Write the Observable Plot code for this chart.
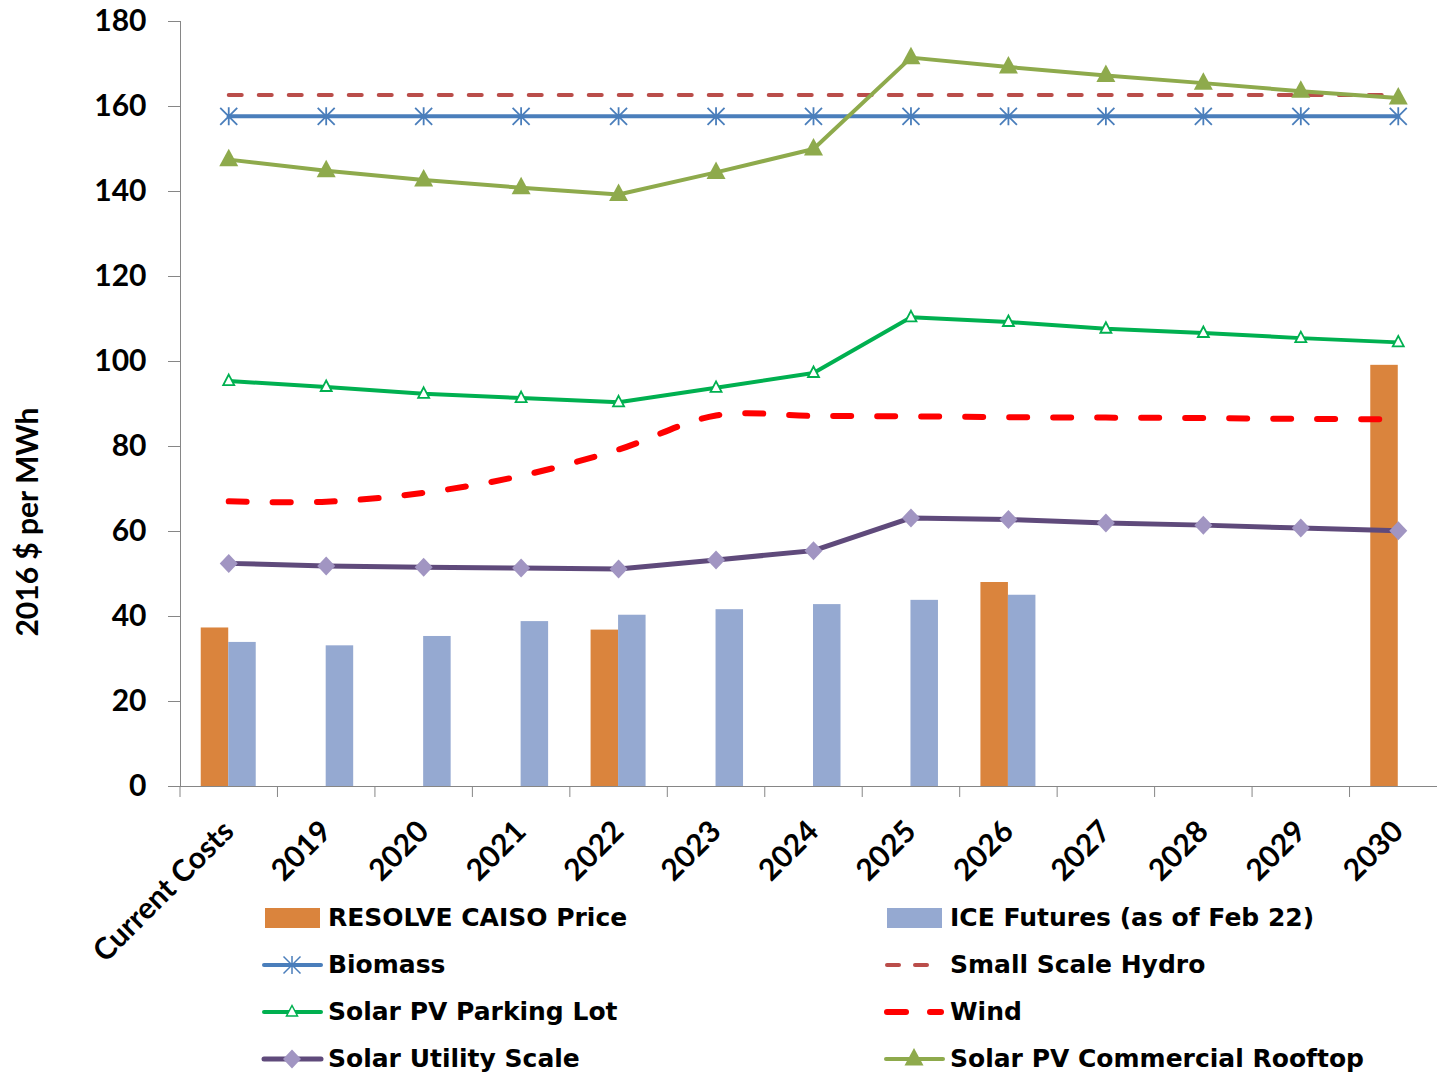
<!DOCTYPE html>
<html>
<head>
<meta charset="utf-8">
<script src="https://cdn.jsdelivr.net/npm/d3@7"></script>
<script src="https://cdn.jsdelivr.net/npm/@observablehq/plot@0.6"></script>
<style>
  body { margin: 0; background: #fff; }
  #chart { position: relative; width: 1437px; height: 1075px; }
  #chart svg { overflow: visible; }
  .legend-item {
    position: absolute; display: flex; align-items: center; height: 30px;
    font: bold 25px "DejaVu Sans", sans-serif; color: #000; white-space: nowrap; line-height: 30px;
  }
  .legend-item span { margin-left: 7px; }
</style>
</head>
<body>
<div id="chart"></div>
<script>
// Categories along the x axis
const categories = ["Current Costs", "2019", "2020", "2021", "2022", "2023", "2024",
                    "2025", "2026", "2027", "2028", "2029", "2030"];
const yTicks = [0, 20, 40, 60, 80, 100, 120, 140, 160, 180];
const yTitle = "2016 $ per MWh";

// Wholesale price references, 2016 $ per MWh (null = no value for that year)
const resolveCaisoPrice = [37.3, null, null, null, 36.8, null, null, null, 48.0, null, null, null, 99.1];
const iceFutures        = [33.9, 33.1, 35.3, 38.8, 40.3, 41.6, 42.8, 43.8, 45.0, null, null, null, null];

// Levelized cost by technology, 2016 $ per MWh
const biomass          = [157.7, 157.7, 157.7, 157.7, 157.7, 157.7, 157.7, 157.7, 157.7, 157.7, 157.7, 157.7, 157.7];
const smallScaleHydro  = [162.7, 162.7, 162.7, 162.7, 162.7, 162.7, 162.7, 162.7, 162.7, 162.7, 162.7, 162.7, 162.7];
const solarParkingLot  = [95.4, 94.0, 92.4, 91.4, 90.4, 93.8, 97.3, 110.4, 109.3, 107.7, 106.7, 105.5, 104.5];
const wind             = [67.1, 67.0, 69.1, 73.1, 79.3, 87.3, 87.2, 87.1, 86.9, 86.8, 86.7, 86.5, 86.4];
const solarUtility     = [52.5, 51.9, 51.6, 51.4, 51.2, 53.3, 55.5, 63.2, 62.8, 62.0, 61.5, 60.8, 60.2];
const solarRooftop     = [147.5, 144.9, 142.7, 140.9, 139.3, 144.5, 150.0, 171.5, 169.3, 167.3, 165.5, 163.6, 162.0];

const table = categories.map((category, i) => ({
  category,
  resolve: resolveCaisoPrice[i],
  ice: iceFutures[i],
  biomass: biomass[i],
  hydro: smallScaleHydro[i],
  parking: solarParkingLot[i],
  wind: wind[i],
  utility: solarUtility[i],
  rooftop: solarRooftop[i]
}));

const colors = {
  resolve: "#DA843D",
  ice: "#95A9D1",
  biomass: "#4A7EBB",
  hydro: "#BA4D4A",
  parking: "#00B050",
  wind: "#FF0000",
  utilityLine: "#5F4A7B",
  utilityMarker: "#A195C2",
  rooftop: "#8EAA4C"
};

// Marker shapes
const star = {draw(ctx) {
  ctx.moveTo(-8.5, -8.5); ctx.lineTo(8.5, 8.5);
  ctx.moveTo(8.5, -8.5); ctx.lineTo(-8.5, 8.5);
  ctx.moveTo(0, -9); ctx.lineTo(0, 9);
}};
const bigTriangle = {draw(ctx) {
  ctx.moveTo(0, -11); ctx.lineTo(9.5, 6.5); ctx.lineTo(-9.5, 6.5); ctx.closePath();
}};
const smallTriangle = {draw(ctx) {
  ctx.moveTo(0, -6.5); ctx.lineTo(5.5, 4); ctx.lineTo(-5.5, 4); ctx.closePath();
}};
const diamond = {draw(ctx) {
  ctx.moveTo(0, -9.5); ctx.lineTo(9, 0); ctx.lineTo(0, 9.5); ctx.lineTo(-9, 0); ctx.closePath();
}};

const xRange = [179.5, 1446.5];
const band = (xRange[1] - xRange[0]) / categories.length;
const half = band / 2;
const barWidth = 27.5;

const chart = Plot.plot({
  width: 1437,
  height: 1075,
  marginLeft: 180,
  marginRight: 0,
  marginTop: 21,
  marginBottom: 289,
  style: {fontFamily: "Lato, sans-serif", fontWeight: "bold", fontSize: "30px", color: "#000", overflow: "visible"},
  x: {domain: categories, range: xRange, padding: 0, round: false, label: null},
  y: {domain: [0, 180], label: null},
  marks: [
    // axes
    Plot.axisY({ticks: yTicks, tickSize: 12, tickPadding: 22, stroke: "#868686", fill: "#000", label: null}),
    Plot.text([yTitle], {frameAnchor: "left", rotate: -90, dx: -152, dy: 118, lineAnchor: "middle",
      textAnchor: "middle", fill: "#000"}),
    Plot.axisX({tickSize: 11, tickFormat: () => "", stroke: "#868686", dx: -half, label: null}),
    Plot.axisX({tickSize: 0, tickPadding: 40, tickRotate: -45, fill: "#000", label: null}),
    Plot.frame({anchor: "left", stroke: "#868686"}),
    Plot.ruleY([0], {stroke: "#868686"}),

    // bars
    Plot.barY(table.filter(d => d.resolve != null), {x: "category", y: "resolve", fill: colors.resolve,
      insetLeft: half - barWidth, insetRight: half}),
    Plot.barY(table.filter(d => d.ice != null), {x: "category", y: "ice", fill: colors.ice,
      insetLeft: half, insetRight: half - barWidth}),

    // lines
    Plot.lineY(table, {x: "category", y: "biomass", stroke: colors.biomass, strokeWidth: 4}),
    Plot.dot(table, {x: "category", y: "biomass", symbol: star, r: 9, stroke: colors.biomass, strokeWidth: 1.8, fill: "none"}),

    Plot.lineY(table, {x: "category", y: "hydro", stroke: colors.hydro, strokeWidth: 4,
      strokeDasharray: "13 17", strokeLinecap: "round"}),

    Plot.lineY(table, {x: "category", y: "parking", stroke: colors.parking, strokeWidth: 4}),
    Plot.dot(table, {x: "category", y: "parking", symbol: smallTriangle, r: 6, stroke: colors.parking, strokeWidth: 1.8, fill: "#fff"}),

    Plot.lineY(table, {x: "category", y: "wind", stroke: colors.wind, strokeWidth: 6,
      strokeDasharray: "18 26", strokeLinecap: "round", curve: "catmull-rom"}),

    Plot.lineY(table, {x: "category", y: "utility", stroke: colors.utilityLine, strokeWidth: 5}),
    Plot.dot(table, {x: "category", y: "utility", symbol: diamond, r: 9, fill: colors.utilityMarker, stroke: "none"}),

    Plot.lineY(table, {x: "category", y: "rooftop", stroke: colors.rooftop, strokeWidth: 4}),
    Plot.dot(table, {x: "category", y: "rooftop", symbol: bigTriangle, r: 10, fill: colors.rooftop, stroke: "none"})
  ]
});

const container = document.getElementById("chart");
container.appendChild(chart);

// Legend: two columns, four rows
const legendItems = [
  {label: "RESOLVE CAISO Price", kind: "rect", color: colors.resolve, col: 0, row: 0},
  {label: "ICE Futures (as of Feb 22)", kind: "rect", color: colors.ice, col: 1, row: 0},
  {label: "Biomass", kind: "biomass", col: 0, row: 1},
  {label: "Small Scale Hydro", kind: "hydro", col: 1, row: 1},
  {label: "Solar PV Parking Lot", kind: "parking", col: 0, row: 2},
  {label: "Wind", kind: "wind", col: 1, row: 2},
  {label: "Solar Utility Scale", kind: "utility", col: 0, row: 3},
  {label: "Solar PV Commercial Rooftop", kind: "rooftop", col: 1, row: 3}
];
const colX = [264, 886];
const rowY = [918, 965, 1012, 1059];

for (const item of legendItems) {
  const div = d3.select(container).append("div")
    .attr("class", "legend-item")
    .style("left", colX[item.col] + "px")
    .style("top", (rowY[item.row] - 15) + "px");
  const svg = div.append("svg").attr("width", 57).attr("height", 30);
  const g = svg.append("g").attr("transform", "translate(0,15)");
  const seg = (x1, x2, color, w, cap) => g.append("line").attr("x1", x1).attr("x2", x2)
    .attr("stroke", color).attr("stroke-width", w).attr("stroke-linecap", cap || "butt");
  const mark = (shape, attrs) => {
    const p = d3.path(); shape.draw(p);
    const el = g.append("path").attr("d", p.toString()).attr("transform", "translate(28,0)");
    for (const k in attrs) el.attr(k, attrs[k]);
  };
  switch (item.kind) {
    case "rect":
      g.append("rect").attr("x", 1).attr("y", -10).attr("width", 55).attr("height", 20).attr("fill", item.color);
      break;
    case "biomass":
      seg(0, 57, colors.biomass, 4, "round");
      mark(star, {stroke: colors.biomass, "stroke-width": 1.5, fill: "none"});
      break;
    case "hydro":
      seg(1, 13, colors.hydro, 4, "round");
      seg(29, 41, colors.hydro, 4, "round");
      break;
    case "wind":
      seg(1, 20, colors.wind, 6, "round");
      seg(44, 55, colors.wind, 6, "round");
      break;
    case "parking":
      seg(0, 57, colors.parking, 4, "round");
      mark(smallTriangle, {stroke: colors.parking, "stroke-width": 1.5, fill: "#fff"});
      break;
    case "utility":
      seg(0, 57, colors.utilityLine, 5, "round");
      mark(diamond, {fill: colors.utilityMarker});
      break;
    case "rooftop":
      seg(0, 57, colors.rooftop, 4, "round");
      mark(bigTriangle, {fill: colors.rooftop});
      break;
  }
  div.append("span").text(item.label);
}
</script>
</body>
</html>
